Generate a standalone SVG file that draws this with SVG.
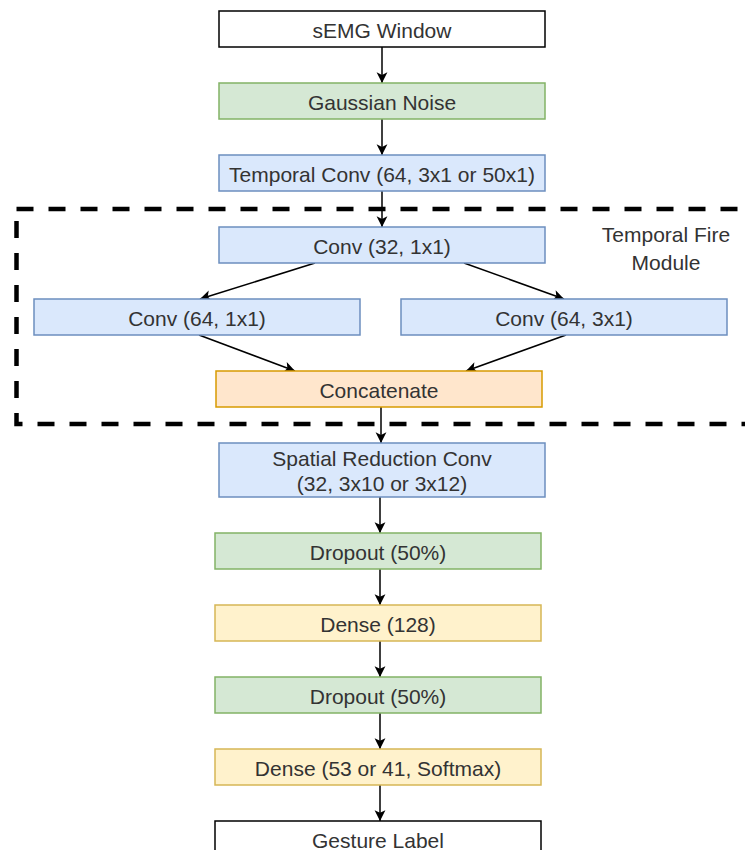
<svg xmlns="http://www.w3.org/2000/svg" width="745" height="850" viewBox="0 0 745 850">
<style>
  text { font-family: "Liberation Sans", Arial, Helvetica, sans-serif; font-size: 21px; fill: #333333; text-anchor: middle; }
  .white { fill: #ffffff; stroke: #000000; stroke-width: 1.5; }
  .green { fill: #d5e8d4; stroke: #82b366; stroke-width: 1.5; }
  .blue { fill: #dae8fc; stroke: #6c8ebf; stroke-width: 1.5; }
  .orange { fill: #ffe6cc; stroke: #d79b00; stroke-width: 1.5; }
  .yellow { fill: #fff2cc; stroke: #d6b656; stroke-width: 1.5; }
  .edge { fill: none; stroke: #000000; stroke-width: 1.5; marker-end: url(#arrow); }
  .dash { fill: none; stroke: #000000; stroke-width: 4.5; stroke-dasharray: 17 15; }
</style>
<defs>
  <marker id="arrow" markerUnits="userSpaceOnUse" markerWidth="13" markerHeight="13" viewBox="0 0 12 12" refX="11" refY="6" orient="auto">
    <path d="M1,1 L11,6 L1,11 L3.5,6 Z" fill="#000000"/>
  </marker>
</defs>

<g id="module-frame">
  <path class="dash" d="M16.5,209 H760"/>
  <path class="dash" d="M16.5,209 V424 H760" stroke-dashoffset="20"/>
  <text x="666" y="242">Temporal Fire</text>
  <text x="666" y="269.5">Module</text>
</g>

<g id="connectors">
  <path class="edge" d="M382,47 V83"/>
  <path class="edge" d="M382,119 V155"/>
  <path class="edge" d="M382,191 V227"/>
  <path class="edge" d="M315,263 L200,299"/>
  <path class="edge" d="M464,263 L564,299"/>
  <path class="edge" d="M199,335 L295,371"/>
  <path class="edge" d="M566,335 L466,371"/>
  <path class="edge" d="M381,407 V443"/>
  <path class="edge" d="M380,497 V533"/>
  <path class="edge" d="M380,569 V605"/>
  <path class="edge" d="M380,641 V677"/>
  <path class="edge" d="M380,713 V749"/>
  <path class="edge" d="M380,785 V821"/>
</g>

<g id="semg-window">
  <rect class="white" x="219" y="11" width="326" height="36"/>
  <text x="382" y="37.5">sEMG Window</text>
</g>
<g id="gaussian-noise">
  <rect class="green" x="219" y="83" width="326" height="36"/>
  <text x="382" y="109.5">Gaussian Noise</text>
</g>
<g id="temporal-conv">
  <rect class="blue" x="219" y="155" width="326" height="36"/>
  <text x="382" y="181.5">Temporal Conv (64, 3x1 or 50x1)</text>
</g>
<g id="conv-32">
  <rect class="blue" x="219" y="227" width="326" height="36"/>
  <text x="382" y="253.5">Conv (32, 1x1)</text>
</g>
<g id="conv-64-1x1">
  <rect class="blue" x="34" y="299" width="326" height="36"/>
  <text x="197" y="325.5">Conv (64, 1x1)</text>
</g>
<g id="conv-64-3x1">
  <rect class="blue" x="401" y="299" width="326" height="36"/>
  <text x="564" y="325.5">Conv (64, 3x1)</text>
</g>
<g id="concatenate">
  <rect class="orange" x="216" y="371" width="326" height="36"/>
  <text x="379" y="397.5">Concatenate</text>
</g>
<g id="spatial-reduction-conv">
  <rect class="blue" x="219" y="443" width="326" height="54"/>
  <text x="382" y="466">Spatial Reduction Conv</text>
  <text x="382" y="491">(32, 3x10 or 3x12)</text>
</g>
<g id="dropout-1">
  <rect class="green" x="215" y="533" width="326" height="36"/>
  <text x="378" y="559.5">Dropout (50%)</text>
</g>
<g id="dense-128">
  <rect class="yellow" x="215" y="605" width="326" height="36"/>
  <text x="378" y="631.5">Dense (128)</text>
</g>
<g id="dropout-2">
  <rect class="green" x="215" y="677" width="326" height="36"/>
  <text x="378" y="703.5">Dropout (50%)</text>
</g>
<g id="dense-softmax">
  <rect class="yellow" x="215" y="749" width="326" height="36"/>
  <text x="378" y="775.5">Dense (53 or 41, Softmax)</text>
</g>
<g id="gesture-label">
  <rect class="white" x="215" y="821" width="326" height="36"/>
  <text x="378" y="847.5">Gesture Label</text>
</g>
</svg>
